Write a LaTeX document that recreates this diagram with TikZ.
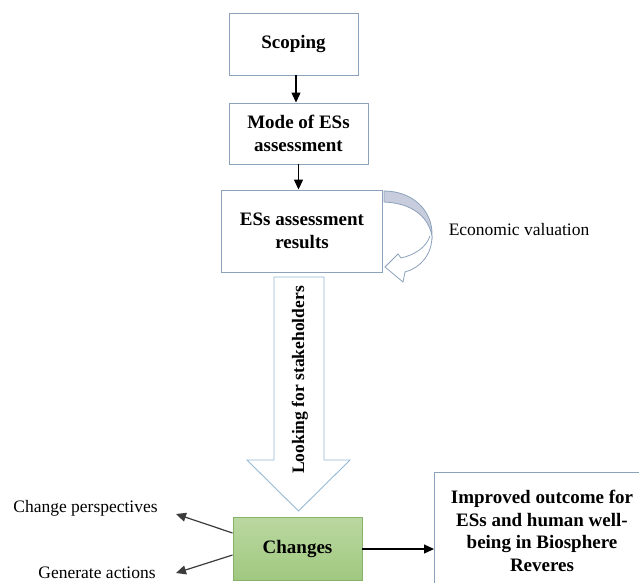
\documentclass[tikz,border=0pt]{standalone}
\usepackage{fontspec}
\setmainfont{Liberation Serif}
\usetikzlibrary{arrows.meta}
\definecolor{boxline}{RGB}{140,162,188}
\definecolor{bigline}{RGB}{150,185,212}
\definecolor{crescent}{RGB}{200,205,222}
\definecolor{greentop}{RGB}{186,216,160}
\definecolor{greenbot}{RGB}{160,200,128}
\definecolor{greenline}{RGB}{135,178,105}
\definecolor{sidearrow}{RGB}{60,60,60}
\tikzset{
  stepbox/.style={draw=boxline, line width=0.9pt, fill=white, align=center,
    font=\fontsize{19}{22.7}\selectfont\bfseries, inner sep=0pt},
  lbl/.style={font=\fontsize{17.5}{21}\selectfont, inner sep=0pt},
  arr/.style={line width=1.2pt, -{Triangle[length=10pt,width=9pt]}},
  sarr/.style={line width=1.2pt, draw=sidearrow, -{Triangle[length=10pt,width=9pt]}}
}
\begin{document}
\begin{tikzpicture}[x=1pt,y=-1pt]
\useasboundingbox (0,0) rectangle (639,582);
\fill[white] (0,0) rectangle (639,582);

% boxes
\node[stepbox, minimum width=129pt, minimum height=62pt] (scoping) at (293.5,44) {Scoping};
\node[stepbox, minimum width=139pt, minimum height=61pt] (mode) at (298.5,133.5) {Mode of ESs\\assessment};
\node[stepbox, minimum width=161pt, minimum height=82pt] (results) at (302,231) {ESs assessment\\results};
\node[stepbox, draw=greenline, top color=greentop, bottom color=greenbot,
      minimum width=129pt, minimum height=63pt] (changes) at (297.5,549) {Changes};

% improved outcome box (open at the bottom)
\coordinate (impBL) at (434,600);
\coordinate (impTL) at (434,472);
\coordinate (impTR) at (641,472);
\draw[boxline, line width=0.9pt] (impBL) -- (impTL) -- (impTR);
\node[font=\fontsize{19}{22.7}\selectfont\bfseries, align=center, inner sep=0pt]
  (improved) at (542,531) {Improved outcome for\\ESs and human well-\\being in Biosphere\\Reveres};

% straight arrows
\draw[arr] ([xshift=2.5pt]scoping.south) -- ([xshift=-2.5pt]mode.north);
\draw[arr] (mode.south) -- (mode.south |- results.north);
\draw[arr] (changes.east) -- (changes.east -| impTL);

% curved "economic valuation" arrow
\fill[crescent, draw=boxline, line width=0.8pt]
  (384,191) .. controls (412,191) and (433,210) .. (432,236)
  .. controls (428,215) and (410,203) .. (384,202) -- cycle;
\filldraw[fill=white, draw=boxline, line width=0.8pt]
  (432,236) .. controls (432,255) and (420,268) .. (405,272)
  -- (403,282) -- (385,267) -- (398,254) -- (401,258)
  .. controls (414,255) and (426,248) .. (430,236);
\node[lbl] (econ) at (519,230) {Economic valuation};

% big down arrow from results to changes
\coordinate (bigTL) at (274,277);
\coordinate (bigTR) at (324,277);
\coordinate (bigTip) at (298.5,511);
\filldraw[fill=white, draw=bigline, line width=0.9pt]
  (bigTL) -- (274,460) -- (247,460) -- (bigTip) -- (350,460) -- (324,460) -- (bigTR) -- cycle;
\node[font=\fontsize{17.5}{21}\selectfont\bfseries, rotate=90, inner sep=0pt] (look) at (300,380) {Looking for stakeholders};

% side outcomes of changes
\node[lbl] (persp) at (85.5,508) {Change perspectives};
\node[lbl] (gen) at (97,573) {Generate actions};
\coordinate (perspTip) at (176,514);
\coordinate (genTip) at (176,573);
\draw[sarr] ([yshift=16pt]changes.west) -- (perspTip);
\draw[sarr] ([yshift=-6pt]changes.west) -- (genTip);
\end{tikzpicture}
\end{document}
